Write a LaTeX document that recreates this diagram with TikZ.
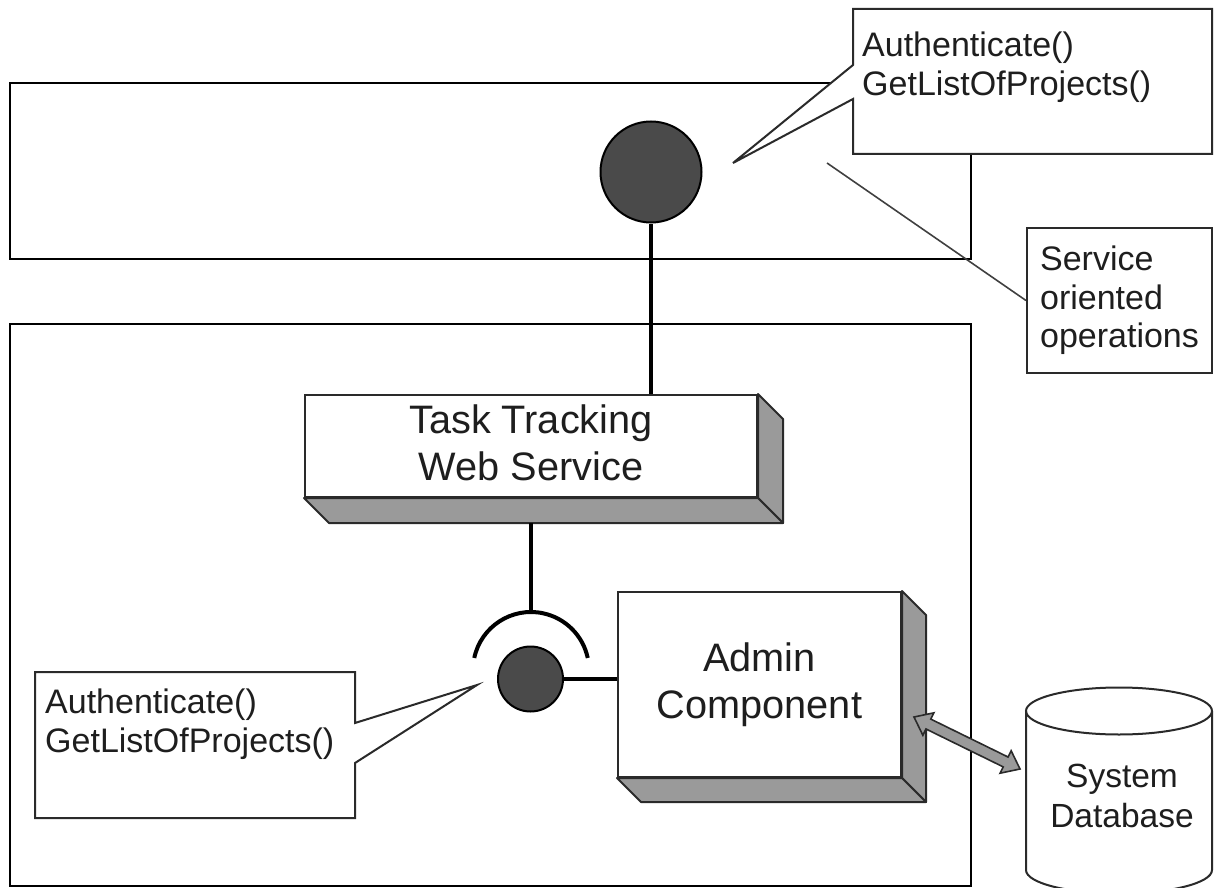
\documentclass[tikz,border=0pt]{standalone}
\usepackage{fontspec}
\setmainfont{Liberation Sans}
\usetikzlibrary{calc}
\definecolor{ink}{HTML}{1E1E1E}
\definecolor{ballgray}{HTML}{4A4A4A}
\definecolor{sidegray}{HTML}{9A9A9A}
\definecolor{edgegray}{HTML}{2A2A2A}
\definecolor{leadgray}{HTML}{404040}

\begin{document}
\begin{tikzpicture}[x=1pt,y=-1pt,
  outerframe/.style={draw=black, line width=2.6pt},
  bubble/.style={draw=edgegray, fill=white, line width=2pt, line join=miter},
  stick/.style={draw=black, line width=4pt},
  lolly/.style={circle, draw=black, line width=2pt, fill=ballgray, inner sep=0pt},
  frontface/.style={draw=edgegray, fill=white, line width=2pt, inner sep=0pt,
    align=center, text=ink, font={\fontsize{39.7}{47}\selectfont}},
  boxside/.style={draw=edgegray, fill=sidegray, line width=2pt, line join=round},
  calltext/.style={font={\fontsize{34}{38.5}\selectfont}, text=ink, inner sep=0pt, align=left},
  dbtext/.style={font={\fontsize{33.5}{40}\selectfont}, text=ink, inner sep=0pt, align=center},
]
\useasboundingbox (0,0) rectangle (1221,888);

% outer containers
\draw[outerframe] (10,83) rectangle (971,259);
\draw[outerframe] (10,324) rectangle (971,886);

% provided interface
\node[lolly, minimum size=101pt] (pball) at (651,172) {};

% web service block with its 3D sides
\node[frontface, minimum width=452pt, minimum height=102pt, text depth=7.4pt] (task) at (531,446) {Task Tracking\\Web Service};
\draw[boxside] (task.north east) -- ++(25,25) -- ($(task.south east)+(25,25)$) -- (task.south east) -- cycle;
\draw[boxside] (task.south west) -- (task.south east) -- ++(25,25) -- ($(task.south west)+(25,25)$) -- cycle;

\draw[stick] (pball.south) -- (pball.south |- task.north);

% required interface (socket) and its ball
\coordinate (sockc) at (531,670);
\draw[stick] ($(sockc)+(192:58)$) arc[start angle=192, end angle=348, radius=58];
\draw[stick] ($(sockc)+(0,-58)$) -- ($(task.south)+(0,25)$);
\node[lolly, minimum size=65pt] (rball) at (530.5,679) {};

% admin component block
\node[frontface, minimum width=283pt, minimum height=185pt] (admin) at (759.5,684.5) {Admin\\Component};
\draw[boxside] (admin.north east) -- ++(24,24) -- ($(admin.south east)+(24,24)$) -- (admin.south east) -- cycle;
\draw[boxside] (admin.south west) -- (admin.south east) -- ++(24,24) -- ($(admin.south west)+(24,24)$) -- cycle;
\draw[stick] (rball.east) -- (rball.east -| admin.west);

% database cylinder
\draw[draw=edgegray, fill=white, line width=2pt]
  (1026,711) -- (1026,870) arc[start angle=180, end angle=0, x radius=93, y radius=23.5] -- (1212,711);
\draw[draw=edgegray, line width=2pt] (1119,711) ellipse[x radius=93, y radius=23.5];
\node[dbtext] (db) at (1122,796) {System\\Database};

% wide double arrow between component and database
\coordinate (la) at (914,717);
\coordinate (lb) at (1020,769);
\coordinate (lh1) at ($(la)!16pt!(lb)$);
\coordinate (lh2) at ($(lb)!16pt!(la)$);
\draw[draw=edgegray, fill=sidegray, line width=1.6pt, line join=miter]
  (la) -- ($(lh1)!12.5pt!90:(lb)$) -- ($(lh1)!5.5pt!90:(lb)$) -- ($(lh2)!5.5pt!90:(lb)$)
  -- ($(lh2)!12.5pt!90:(lb)$) -- (lb) -- ($(lh2)!12.5pt!-90:(lb)$) -- ($(lh2)!5.5pt!-90:(lb)$)
  -- ($(lh1)!5.5pt!-90:(lb)$) -- ($(lh1)!12.5pt!-90:(lb)$) -- cycle;

% note on the service operations
\node[draw=edgegray, line width=2pt, minimum width=185pt, minimum height=145pt, calltext] (svc) at (1119.5,300.5) {Service\\oriented\\operations};
\coordinate (svcptr) at (827,163);
\draw[draw=leadgray, line width=1.6pt] (svcptr) -- (svc.west);

% callout listing the provided operations
\draw[bubble] (853,9) -- (1212,9) -- (1212,154) -- (853,154) -- (853,99) -- (733,163) -- (853,65) -- cycle;
\node[calltext, anchor=north west] (ops1) at (862,32) {Authenticate()\\GetListOfProjects()};

% callout listing the required operations
\draw[bubble] (35,672) -- (355,672) -- (355,723) -- (477,685) -- (355,763) -- (355,818) -- (35,818) -- cycle;
\node[calltext, anchor=north west] (ops2) at (45,689) {Authenticate()\\GetListOfProjects()};
\end{tikzpicture}
\end{document}
